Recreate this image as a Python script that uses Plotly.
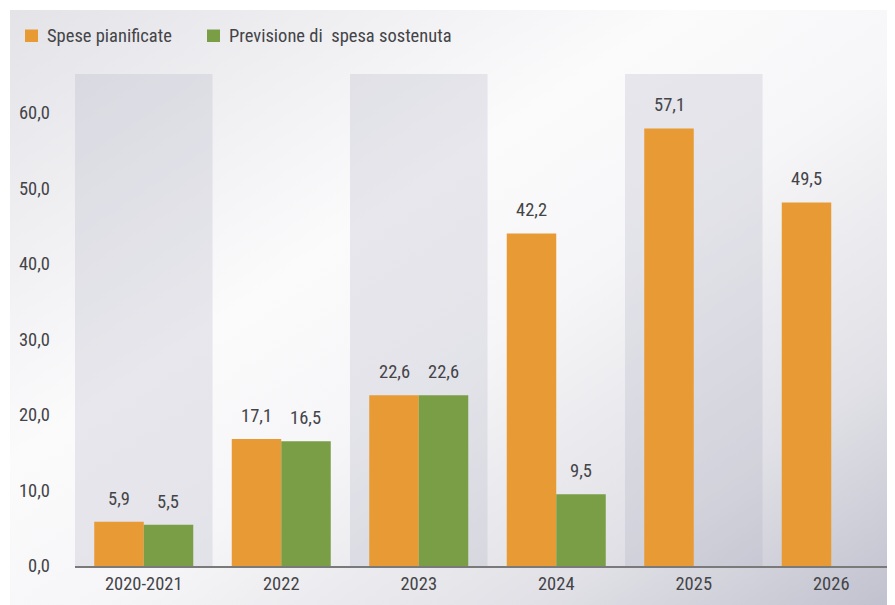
import base64
import plotly.graph_objects as go

categories = ["2020-2021", "2022", "2023", "2024", "2025", "2026"]
spese_pianificate = [5.85, 16.8, 22.6, 44.0, 57.9, 48.1]
spese_pianificate_labels = ["5,9", "17,1", "22,6", "42,2", "57,1", "49,5"]
spesa_sostenuta = [5.45, 16.5, 22.6, 9.5, None, None]
spesa_sostenuta_labels = ["5,5", "16,5", "22,6", "9,5", None, None]
series_names = ["Spese pianificate", "Previsione di\u00a0 spesa sostenuta"]
y_ticks = [0, 10, 20, 30, 40, 50, 60]

ORANGE = "#E89A35"
GREEN = "#7A9E46"
TXT = "#444448"
FONT = "Roboto Condensed, Roboto, sans-serif"
FS = 18.5

# page has an 8px body margin
W, H = 887, 597
L, R, T, B = 67, 0, 66, 39
pw, ph = W - L - R, H - T - B


def px_x(p):
    return (p - L) / pw


def px_y(p):
    return 1 + (T - p) / ph


fig = go.Figure()
fig.add_trace(go.Bar(name=series_names[0], x=categories, y=spese_pianificate,
                     marker=dict(color=ORANGE, line=dict(width=0)), hoverinfo="skip"))
fig.add_trace(go.Bar(name=series_names[1], x=categories, y=spesa_sostenuta,
                     marker=dict(color=GREEN, line=dict(width=0)), hoverinfo="skip"))

# data labels
bar_px = pw / 6 * 0.72 / 2
for i, c in enumerate(categories):
    for vals, labs, sh in ((spese_pianificate, spese_pianificate_labels, -bar_px / 2),
                           (spesa_sostenuta, spesa_sostenuta_labels, bar_px / 2)):
        if vals[i] is None:
            continue
        fig.add_annotation(x=i, y=vals[i], text=labs[i], showarrow=False,
                           xshift=sh, yshift=10, yanchor="bottom",
                           font=dict(family=FONT, size=FS, color=TXT))

# alternating shaded columns
for i in range(0, 6, 2):
    fig.add_shape(type="rect", xref="x", yref="paper", x0=i - 0.5, x1=i + 0.5, y0=0, y1=1,
                  fillcolor="rgba(175,175,192,0.26)", line=dict(width=0), layer="below")

# legend (drawn manually to match spacing)
for name, col, sx in ((series_names[0], ORANGE, 17), (series_names[1], GREEN, 199)):
    fig.add_shape(type="rect", xref="paper", yref="paper",
                  x0=px_x(sx), x1=px_x(sx + 13), y0=px_y(21.5), y1=px_y(34),
                  fillcolor=col, line=dict(width=0))
    fig.add_annotation(xref="paper", yref="paper", x=px_x(sx + 20), y=px_y(27.5),
                       xanchor="left", yanchor="middle", text=name, showarrow=False,
                       font=dict(family=FONT, size=FS, color=TXT))

# gradient background
svg = ('<svg xmlns="http://www.w3.org/2000/svg" width="885" height="595" viewBox="0 0 885 595" '
       'preserveAspectRatio="none"><defs><linearGradient id="g" x1="0" y1="0" x2="1" y2="1">'
       '<stop offset="0" stop-color="#e3e3e8"/><stop offset="0.38" stop-color="#fbfbfc"/>'
       '<stop offset="0.55" stop-color="#f6f6f8"/><stop offset="0.8" stop-color="#e0e0e6"/>'
       '<stop offset="1" stop-color="#c0c1ce"/></linearGradient></defs>'
       '<rect width="885" height="595" fill="url(#g)"/></svg>')
src = "data:image/svg+xml;base64," + base64.b64encode(svg.encode()).decode()
fig.add_layout_image(source=src, xref="paper", yref="paper",
                     x=px_x(2), y=px_y(2),
                     sizex=885 / pw, sizey=595 / ph, xanchor="left", yanchor="top",
                     sizing="stretch", layer="below")

fig.update_layout(
    width=W, height=H,
    margin=dict(l=L, r=R, t=T, b=B, pad=0),
    paper_bgcolor="white", plot_bgcolor="rgba(0,0,0,0)",
    barmode="group", bargap=0.28, bargroupgap=0,
    separators=",.",
    font=dict(family=FONT, size=FS, color=TXT),
    showlegend=False,
    xaxis=dict(type="category", range=[-0.5, -0.5 + 6 * pw / (6 * 137.5)],
               showgrid=False, zeroline=False, showline=True, linecolor="#7a7a7a",
               linewidth=1.5, ticks="", tickfont=dict(family=FONT, size=FS, color=TXT),
               fixedrange=True),
    yaxis=dict(range=[0, 65.1], tickvals=y_ticks, tickformat=".1f", showgrid=False,
               zeroline=False, showline=False, ticks="", ticklabelstandoff=24,
               tickfont=dict(family=FONT, size=FS, color=TXT), fixedrange=True),
)

fig.write_html("out.html")
